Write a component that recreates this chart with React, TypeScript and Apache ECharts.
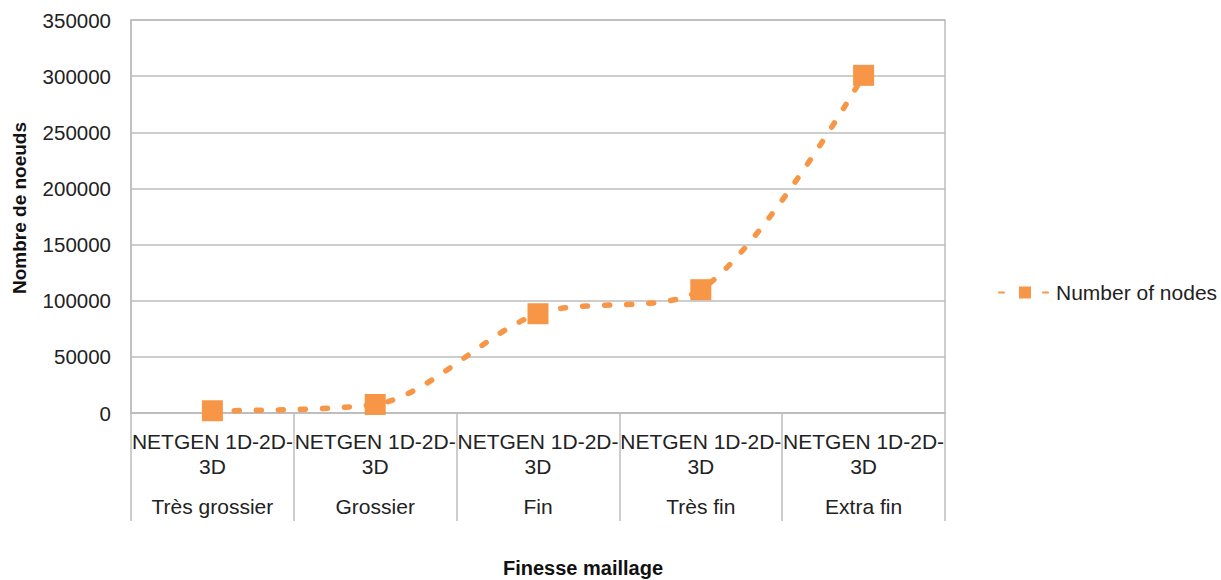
import React, { useEffect, useRef } from "react";
import * as echarts from "echarts";

const methods = ["NETGEN 1D-2D-3D", "NETGEN 1D-2D-3D", "NETGEN 1D-2D-3D", "NETGEN 1D-2D-3D", "NETGEN 1D-2D-3D"];
const levels = ["Très grossier", "Grossier", "Fin", "Très fin", "Extra fin"];
const nodes = [2000, 7600, 88400, 109800, 300700];
const seriesName = "Number of nodes";
const yTitle = "Nombre de noeuds";
const xTitle = "Finesse maillage";

const ORANGE = "#F79646";
const GRID = "#bdbdbd";
const FONT = "'Liberation Sans', Arial, Helvetica, sans-serif";

export default function App() {
  const ref = useRef<HTMLDivElement>(null);
  useEffect(() => {
    if (!ref.current) return;
    const chart = echarts.init(ref.current, null, { renderer: "svg" });
    const cats = methods.map((m, i) => `${m}|${levels[i]}`);
    chart.setOption({
      animation: false,
      textStyle: { fontFamily: FONT },
      grid: {
        left: 131,
        top: 20,
        right: 276,
        bottom: 167,
        show: true,
        borderColor: GRID,
        borderWidth: 1.5,
      },
      legend: {
        orient: "vertical",
        left: 993,
        top: 277,
        itemWidth: 52,
        itemHeight: 15,
        itemGap: 5,
        textStyle: { fontSize: 21, color: "#222", fontFamily: FONT },
        data: [seriesName],
      },
      xAxis: {
        type: "category",
        data: cats,
        boundaryGap: true,
        axisLine: { lineStyle: { color: GRID, width: 1.5 } },
        axisTick: { show: true, length: 108, interval: 0, lineStyle: { color: GRID, width: 1.5 } },
        splitLine: { show: false },
        axisLabel: {
          interval: 0,
          margin: 16,
          color: "#222",
          formatter: (v: string) => {
            const [m, l] = v.split("|");
            const cut = m.lastIndexOf("-") + 1;
            return `{a|${m.slice(0, cut)}}\n{a|${m.slice(cut)}}\n{b|${l}}`;
          },
          rich: {
            a: { fontSize: 21, lineHeight: 25, color: "#222", fontFamily: FONT, align: "center" },
            b: { fontSize: 21, lineHeight: 55, color: "#222", fontFamily: FONT, align: "center" },
          },
        },
      },
      yAxis: {
        type: "value",
        min: 0,
        max: 350000,
        interval: 50000,
        axisLine: { show: true, lineStyle: { color: GRID, width: 1.5 } },
        axisTick: { show: false },
        splitLine: { lineStyle: { color: GRID, width: 1.5 } },
        axisLabel: {
          fontSize: 20.5,
          color: "#222",
          margin: 20,
          fontFamily: FONT,
          formatter: (v: number) => String(v),
        },
      },
      graphic: [
        {
          type: "text",
          x: 19,
          y: 208,
          rotation: Math.PI / 2,
          style: {
            text: yTitle,
            fontSize: 19,
            fontWeight: "bold",
            fontFamily: FONT,
            fill: "#111",
            textAlign: "center",
            textVerticalAlign: "middle",
          },
        },
        {
          type: "text",
          x: 583,
          y: 568,
          style: {
            text: xTitle,
            fontSize: 20,
            fontWeight: "bold",
            fontFamily: FONT,
            fill: "#111",
            textAlign: "center",
            textVerticalAlign: "middle",
          },
        },
      ],
      series: [
        {
          name: seriesName,
          type: "line",
          data: nodes,
          smooth: 0.3,
          symbol: "rect",
          symbolSize: 21,
          itemStyle: { color: ORANGE },
          lineStyle: { color: ORANGE, width: 5.5, type: [5, 17], cap: "round" },
        },
      ],
    });
    return () => chart.dispose();
  }, []);
  return (
    <div
      ref={ref}
      style={{ position: "fixed", left: 0, top: 0, width: 1221, height: 580, background: "#fff" }}
    />
  );
}
